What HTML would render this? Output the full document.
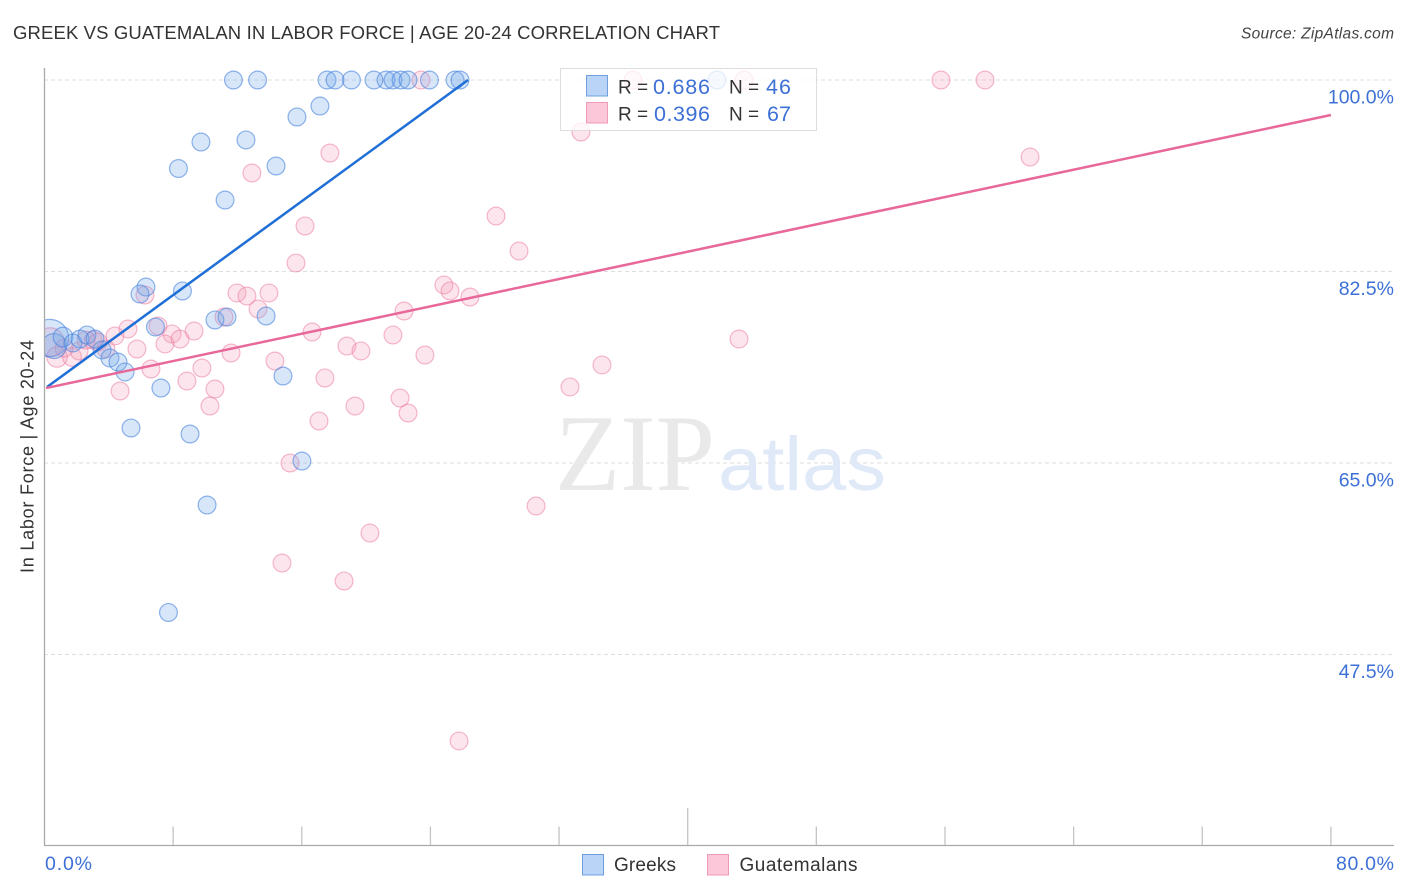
<!DOCTYPE html>
<html lang="en">
<head>
<meta charset="utf-8">
<title>Greek vs Guatemalan in Labor Force | Age 20-24 Correlation Chart</title>
<style>
html,body{margin:0;padding:0;background:#fff;width:1406px;height:892px;overflow:hidden}
svg{display:block;font-family:"Liberation Sans",sans-serif}
</style>
</head>
<body>
<svg id="chart" xmlns="http://www.w3.org/2000/svg" width="1406" height="892" viewBox="0 0 1406 892">
  <defs><clipPath id="plot-clip"><rect x="45" y="60" width="1349" height="785"/></clipPath></defs>
  <text x="13" y="39" font-size="18.5" fill="#333" textLength="707" lengthAdjust="spacing">GREEK VS GUATEMALAN IN LABOR FORCE | AGE 20-24 CORRELATION CHART</text>
  <text x="1241" y="38.5" font-size="15.5" font-style="italic" fill="#444" textLength="153" lengthAdjust="spacing">Source: ZipAtlas.com</text>
  <g id="grid"></g>
  <g>
    <text x="555" y="490" font-family="'Liberation Serif',serif" font-size="109" fill="#e9e9e9" textLength="160" lengthAdjust="spacingAndGlyphs">ZIP</text>
    <text x="718" y="490" font-size="76" fill="#dfe9f8" textLength="168" lengthAdjust="spacingAndGlyphs">atlas</text>
  </g>
  <g id="ticks"></g>
  <g id="points" clip-path="url(#plot-clip)"></g>
  <g id="trends"></g>
  <line x1="44.5" y1="68" x2="44.5" y2="846" stroke="#aaa" stroke-width="1.3"/>
  <line x1="44" y1="845.5" x2="1394" y2="845.5" stroke="#aaa" stroke-width="1.3"/>
  <g id="ylabels"></g>
  <text x="45" y="870" font-size="19.5" fill="#3d70d6" textLength="47" lengthAdjust="spacing">0.0%</text>
  <text x="1336" y="870" font-size="19.5" fill="#3d70d6" textLength="58" lengthAdjust="spacing">80.0%</text>
  <text transform="translate(33.5,456.5) rotate(-90)" font-size="18" fill="#333" text-anchor="middle" textLength="233" lengthAdjust="spacing">In Labor Force | Age 20-24</text>
  <g>
    <rect x="560.5" y="68.5" width="256" height="62" fill="#fff" fill-opacity="0.76" stroke="#ddd" stroke-width="1"/>
    <rect x="586.5" y="75.5" width="21" height="20.5" fill="#b9d4f7" stroke="#6f9fe0" stroke-width="1"/>
    <rect x="586.5" y="102.5" width="21" height="20.5" fill="#fcc8d9" stroke="#f09ab8" stroke-width="1"/>
    <text x="618" y="93.5" font-size="19" fill="#333">R =</text>
    <text x="653" y="94" font-size="21.5" fill="#3d70d6" textLength="57" lengthAdjust="spacing">0.686</text>
    <text x="729" y="93.5" font-size="19" fill="#333">N =</text>
    <text x="766" y="94" font-size="21.5" fill="#3d70d6" textLength="25" lengthAdjust="spacing">46</text>
    <text x="618" y="120.5" font-size="19" fill="#333">R =</text>
    <text x="654" y="121" font-size="21.5" fill="#3d70d6" textLength="56" lengthAdjust="spacing">0.396</text>
    <text x="729" y="120.5" font-size="19" fill="#333">N =</text>
    <text x="767" y="121" font-size="21.5" fill="#3d70d6" textLength="24" lengthAdjust="spacing">67</text>
  </g>
  <g>
    <rect x="582.5" y="854.5" width="21" height="20.5" fill="#b9d4f7" stroke="#6f9fe0" stroke-width="1"/>
    <text x="614" y="871" font-size="19" fill="#333" textLength="62" lengthAdjust="spacing">Greeks</text>
    <rect x="707.5" y="854.5" width="21" height="20.5" fill="#fcc8d9" stroke="#f09ab8" stroke-width="1"/>
    <text x="739.5" y="871" font-size="19" fill="#333" textLength="118" lengthAdjust="spacing">Guatemalans</text>
  </g>
</svg>
<script>
const yTickValues = [100, 82.5, 65, 47.5];
const yTickLabels = ["100.0%", "82.5%", "65.0%", "47.5%"];
const xTickValues = [0, 8, 16, 24, 32, 40, 48, 56, 64, 72, 80];
const greekX = [11.75,13.25,17.57,18.07,19.09,20.49,21.24,21.67,22.17,22.61,23.94,25.53,25.84,41.82,15.70,17.13,9.73,12.53,8.33,14.40,11.23,6.31,5.94,8.58,10.60,11.35,13.78,6.90,0.34,0.59,1.15,1.77,2.21,2.64,3.14,3.58,4.07,4.57,5.01,7.24,5.38,9.05,14.83,16.01,10.11,7.71];
const greekY = [100,100,100,100,100,100,100,100,100,100,100,100,100,100,96.62,97.62,94.33,94.52,91.91,92.14,89.03,81.08,80.44,80.72,78.07,78.34,78.43,77.43,76.42,75.69,76.51,75.97,76.33,76.70,76.33,75.33,74.60,74.23,73.32,71.85,68.20,67.65,72.95,65.18,61.16,51.34];
const greekSize = [1,1,1,1,1,1,1,1,1,1,1,1,1,1,1,1,1,1,1,1,1,1,1,1,1,1,1,1,2.1,1.4,1.1,1,1,1,1,1,1,1,1,1,1,1,1,1,1,1];
const guatemalanX = [36.60,43.50,23.41,55.75,58.49,33.36,61.29,17.75,12.90,16.20,28.08,29.51,15.64,24.84,25.22,26.46,11.97,12.59,13.96,6.25,13.28,22.36,11.16,7.06,5.19,4.38,7.93,8.43,9.30,7.49,5.75,16.64,21.67,18.81,19.68,23.66,43.19,11.60,14.33,34.67,9.79,6.62,17.44,32.68,8.86,10.60,4.70,22.11,19.31,10.29,22.61,17.07,15.27,30.57,20.24,14.77,18.63,25.78,0.34,0.78,1.71,2.15,3.02,3.82,3.33,1.22,2.58];
const guatemalanY = [100,100,100,100,100,95.25,92.96,93.33,91.50,86.66,87.57,84.37,83.28,81.27,80.72,80.17,80.54,80.26,80.54,80.35,79.07,78.89,78.34,77.52,77.25,76.61,76.79,76.33,77.06,75.88,75.42,76.97,76.70,75.69,75.24,74.87,76.33,75.05,74.32,73.96,73.68,73.59,72.77,71.95,72.49,71.76,71.58,70.94,70.21,70.21,69.57,68.84,65.00,61.07,58.60,55.86,54.22,39.60,76.06,74.69,74.69,75.24,76.24,75.42,76.06,75.50,76.24];
const guatemalanSize = [1,1,1,1,1,1,1,1,1,1,1,1,1,1,1,1,1,1,1,1,1,1,1,1,1,1,1,1,1,1,1,1,1,1,1,1,1,1,1,1,1,1,1,1,1,1,1,1,1,1,1,1,1,1,1,1,1,1,1.6,1.15,1.05,1,1,1,1,1,1];
const greekTrendX = [0.16, 26.34];
const greekTrendY = [71.95, 100];
const guatemalanTrendX = [0.1, 80];
const guatemalanTrendY = [71.85, 96.8];

const NS = 'http://www.w3.org/2000/svg';
function xScale(v){ return 44.5 + v * 16.08; }
function yScale(v){ return 80 + (100 - v) * 10.943; }
function mk(tag, parent, attrs){
  const el = document.createElementNS(NS, tag);
  for (const k in attrs) el.setAttribute(k, attrs[k]);
  parent.appendChild(el);
  return el;
}
const gridG = document.getElementById('grid');
const ticksG = document.getElementById('ticks');
const labelsG = document.getElementById('ylabels');
const pointsG = document.getElementById('points');
const trendsG = document.getElementById('trends');

yTickValues.forEach((v, i) => {
  const y = yScale(v);
  const line = mk('line', gridG, {x1:44, x2:1394, y1:y, y2:y, stroke:'#dedede', 'stroke-width':1, 'stroke-dasharray':'4 3'});
  
  
  const t = mk('text', labelsG, {x:1394, y:y+23.5, 'font-size':19.5, fill:'#3d70d6', 'text-anchor':'end'});
  t.textContent = yTickLabels[i];
  
  
});

xTickValues.forEach((v) => {
  if (v === 0) return;
  const x = xScale(v);
  const line = mk('line', ticksG, {x1:x, x2:x, y1:(v === 40 ? 808 : 826.5), y2:845, stroke:'#c4c4c4', 'stroke-width':1.3});
  
  
});

const R = 8.9;
guatemalanX.forEach((v, i) => {
  const c = mk('circle', pointsG, {cx:xScale(v), cy:yScale(guatemalanY[i]), r:R*guatemalanSize[i], fill:'rgb(246,160,188)', 'fill-opacity':0.28, stroke:'rgb(236,120,160)', 'stroke-opacity':0.52, 'stroke-width':1.2});
  
  
});
greekX.forEach((v, i) => {
  const c = mk('circle', pointsG, {cx:xScale(v), cy:yScale(greekY[i]), r:R*greekSize[i], fill:'rgb(110,165,235)', 'fill-opacity':0.28, stroke:'rgb(70,130,220)', 'stroke-opacity':0.6, 'stroke-width':1.2});
  
  
});

const greekLine = mk('line', trendsG, {x1:xScale(greekTrendX[0]), y1:yScale(greekTrendY[0]), x2:xScale(greekTrendX[1]), y2:yScale(greekTrendY[1]), stroke:'#1f6fd6', 'stroke-width':2.5});


const guatLine = mk('line', trendsG, {x1:xScale(guatemalanTrendX[0]), y1:yScale(guatemalanTrendY[0]), x2:xScale(guatemalanTrendX[1]), y2:yScale(guatemalanTrendY[1]), stroke:'#e8689a', 'stroke-width':2.5});


</script>
</body>
</html>
